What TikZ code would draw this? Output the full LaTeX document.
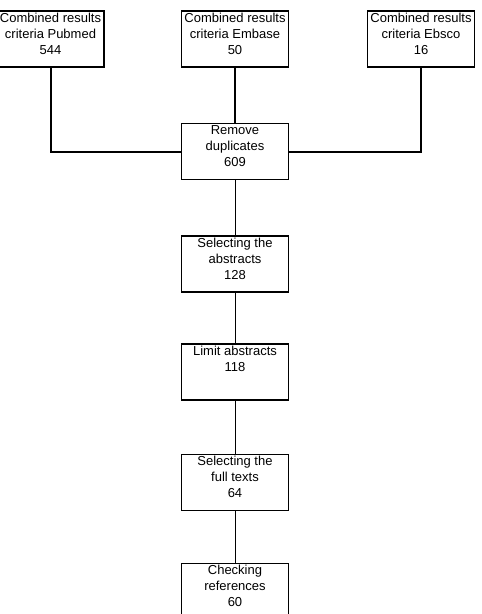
\documentclass[tikz,border=0pt]{standalone}
\usepackage{fontspec}
\setmainfont{Liberation Sans}
\newcommand{\boxtxt}[1]{\parbox[t][56pt][t]{107pt}{\centering\vspace*{2pt}#1}}

\begin{document}
\begin{tikzpicture}[x=1pt,y=-1pt,
  box/.style={draw=black,line width=1.5pt,inner sep=0pt,
    font=\fontsize{13}{16}\selectfont},
  thicklink/.style={line width=2pt},
  thinlink/.style={line width=0.8pt}]
\useasboundingbox (0,0) rectangle (482,614);

% searches
\node[box] (pubmed) at (50.5,39) {\boxtxt{Combined results\\criteria Pubmed\\544}};
\node[box] (embase) at (235,39) {\boxtxt{Combined results\\criteria Embase\\50}};
\node[box] (ebsco) at (421,39) {\boxtxt{Combined results\\criteria Ebsco\\16}};

% selection steps
\node[box] (remove) at (235,151.5) {\boxtxt{Remove\\duplicates\\609}};
\node[box] (abstr) at (235,264) {\boxtxt{Selecting the\\abstracts\\128}};
\node[box] (limit) at (235,372) {\boxtxt{Limit abstracts\\118}};
\node[box] (fulltxt) at (235,482.5) {\boxtxt{Selecting the\\full texts\\64}};
\node[box] (checkref) at (235,591.5) {\boxtxt{Checking\\references\\60}};

\draw[thicklink] (pubmed.south) |- (remove.west);
\draw[thicklink] (embase) -- (remove);
\draw[thicklink] (ebsco.south) |- (remove.east);

\draw[thinlink] (remove) -- (abstr);
\draw[thinlink] (abstr) -- (limit);
\draw[thinlink] (limit) -- (fulltxt);
\draw[thinlink] (fulltxt) -- (checkref);

\end{tikzpicture}
\end{document}
